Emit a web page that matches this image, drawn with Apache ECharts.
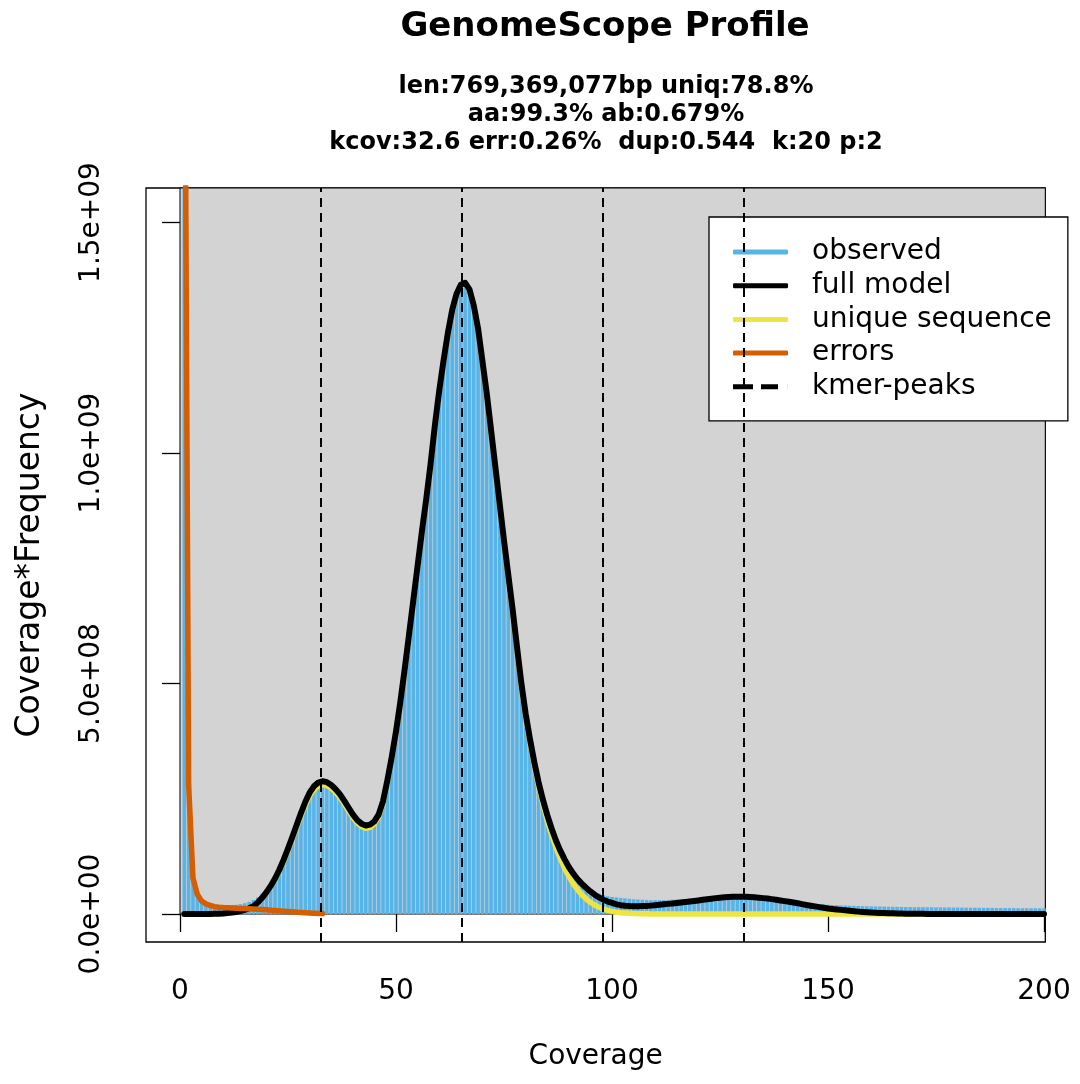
<!DOCTYPE html>
<html>
<head>
<meta charset="utf-8">
<script src="https://cdn.jsdelivr.net/npm/echarts@6/dist/echarts.min.js"></script>
<style>
html, body {margin: 0; padding: 0; background: #fff;}
#main {width: 1080px; height: 1084px;}
</style>
</head>
<body>
<div id="main"></div>
<script>
// k-mer coverage 1..200, values are coverage*frequency
var observed = [
    3.0e9, 3.0e8, 1.0e8, 5.0e7, 3.3e7, 2.6e7, 2.2e7, 2.0e7, 1.9e7, 1.85e7,
    1.85e7, 1.9e7, 2.0e7, 2.15e7, 2.35e7, 2.65e7, 3.05e7, 3.6e7, 4.4e7, 5.4e7,
    6.6e7, 8.0e7, 9.8e7, 1.19e8, 1.42e8, 1.66e8, 1.9e8, 2.15e8, 2.4e8, 2.6e8,
    2.74e8, 2.83e8, 2.86e8, 2.84e8, 2.78e8, 2.69e8, 2.58e8, 2.44e8, 2.29e8, 2.14e8,
    2.02e8, 1.94e8, 1.9e8, 1.92e8, 2.0e8, 2.15e8, 2.44e8, 2.88e8, 3.38e8, 3.94e8,
    4.58e8, 5.28e8, 6.03e8, 6.78e8, 7.53e8, 8.28e8, 8.98e8, 9.74e8, 1.058e9, 1.133e9,
    1.198e9, 1.258e9, 1.308e9, 1.343e9, 1.363e9, 1.367e9, 1.353e9, 1.318e9, 1.268e9, 1.198e9,
    1.128e9, 1.048e9, 9.68e8, 8.88e8, 8.08e8, 7.33e8, 6.58e8, 5.8e8, 5.04e8, 4.37e8,
    3.82e8, 3.32e8, 2.88e8, 2.5e8, 2.17e8, 1.88e8, 1.63e8, 1.41e8, 1.22e8, 1.05e8,
    9.1e7, 7.9e7, 6.9e7, 6.1e7, 5.4e7, 4.8e7, 4.4e7, 4.1e7, 3.85e7, 3.7e7,
    3.6e7, 3.5e7, 3.4e7, 3.3e7, 3.2e7, 3.15e7, 3.1e7, 3.05e7, 3.0e7, 3.0e7,
    3.0e7, 3.0e7, 3.05e7, 3.1e7, 3.15e7, 3.2e7, 3.25e7, 3.3e7, 3.35e7, 3.4e7,
    3.45e7, 3.5e7, 3.55e7, 3.58e7, 3.6e7, 3.62e7, 3.63e7, 3.63e7, 3.62e7, 3.6e7,
    3.55e7, 3.5e7, 3.43e7, 3.35e7, 3.27e7, 3.18e7, 3.08e7, 2.98e7, 2.88e7, 2.78e7,
    2.7e7, 2.6e7, 2.52e7, 2.44e7, 2.36e7, 2.28e7, 2.2e7, 2.13e7, 2.07e7, 2.01e7,
    1.96e7, 1.92e7, 1.88e7, 1.84e7, 1.8e7, 1.77e7, 1.74e7, 1.71e7, 1.68e7, 1.66e7,
    1.64e7, 1.62e7, 1.6e7, 1.58e7, 1.56e7, 1.55e7, 1.54e7, 1.52e7, 1.51e7, 1.5e7,
    1.49e7, 1.48e7, 1.47e7, 1.46e7, 1.45e7, 1.44e7, 1.43e7, 1.42e7, 1.41e7, 1.4e7,
    1.39e7, 1.38e7, 1.37e7, 1.36e7, 1.35e7, 1.34e7, 1.33e7, 1.32e7, 1.31e7, 1.3e7,
    1.29e7, 1.28e7, 1.27e7, 1.27e7, 1.26e7, 1.26e7, 1.25e7, 1.25e7, 1.24e7, 1.24e7
];
var fullModel = [
    0, 0, 0, 0, 0, 1e5, 2e5, 4e5, 7e5, 1.2e6,
    2e6, 3e6, 4.5e6, 6.5e6, 9e6, 1.25e7, 1.7e7, 2.5e7, 3.5e7, 4.7e7,
    6.1e7, 7.7e7, 9.6e7, 1.18e8, 1.42e8, 1.67e8, 1.93e8, 2.19e8, 2.43e8, 2.63e8,
    2.77e8, 2.85e8, 2.88e8, 2.86e8, 2.8e8, 2.71e8, 2.6e8, 2.46e8, 2.31e8, 2.16e8,
    2.04e8, 1.96e8, 1.92e8, 1.94e8, 2.01e8, 2.16e8, 2.45e8, 2.9e8, 3.4e8, 3.96e8,
    4.6e8, 5.3e8, 6.05e8, 6.8e8, 7.55e8, 8.3e8, 9.0e8, 9.76e8, 1.06e9, 1.135e9,
    1.2e9, 1.26e9, 1.31e9, 1.345e9, 1.365e9, 1.369e9, 1.355e9, 1.32e9, 1.27e9, 1.2e9,
    1.13e9, 1.05e9, 9.7e8, 8.9e8, 8.1e8, 7.35e8, 6.6e8, 5.8e8, 5.02e8, 4.35e8,
    3.8e8, 3.3e8, 2.86e8, 2.48e8, 2.15e8, 1.86e8, 1.6e8, 1.38e8, 1.19e8, 1.02e8,
    8.8e7, 7.6e7, 6.6e7, 5.7e7, 4.9e7, 4.2e7, 3.6e7, 3.1e7, 2.7e7, 2.4e7,
    2.1e7, 1.92e7, 1.8e7, 1.72e7, 1.7e7, 1.7e7, 1.72e7, 1.76e7, 1.82e7, 1.9e7,
    2.0e7, 2.1e7, 2.2e7, 2.3e7, 2.4e7, 2.5e7, 2.6e7, 2.7e7, 2.82e7, 2.95e7,
    3.08e7, 3.2e7, 3.33e7, 3.45e7, 3.55e7, 3.62e7, 3.68e7, 3.72e7, 3.74e7, 3.75e7,
    3.73e7, 3.7e7, 3.63e7, 3.55e7, 3.45e7, 3.35e7, 3.23e7, 3.1e7, 2.95e7, 2.8e7,
    2.65e7, 2.5e7, 2.33e7, 2.15e7, 1.97e7, 1.8e7, 1.65e7, 1.5e7, 1.35e7, 1.2e7,
    1.1e7, 1.0e7, 9e6, 8e6, 7e6, 6e6, 5.2e6, 4.5e6, 3.9e6, 3.3e6,
    2.8e6, 2.4e6, 2e6, 1.7e6, 1.4e6, 1.2e6, 1e6, 8e5, 6.5e5, 5e5,
    4e5, 3.2e5, 2.5e5, 2e5, 1.5e5, 1.2e5, 9e4, 7e4, 5e4, 4e4,
    3e4, 2e4, 1e4, 1e4, 0, 0, 0, 0, 0, 0,
    0, 0, 0, 0, 0, 0, 0, 0, 0, 0
];
var uniqueSeq = [
    0, 0, 0, 0, 0, 1e5, 2e5, 4e5, 7e5, 1.2e6,
    2e6, 3e6, 4.5e6, 6.5e6, 9e6, 1.25e7, 1.7e7, 2.45e7, 3.4e7, 4.6e7,
    5.95e7, 7.5e7, 9.35e7, 1.15e8, 1.38e8, 1.63e8, 1.88e8, 2.13e8, 2.36e8, 2.56e8,
    2.7e8, 2.78e8, 2.81e8, 2.79e8, 2.73e8, 2.64e8, 2.53e8, 2.39e8, 2.24e8, 2.1e8,
    1.98e8, 1.9e8, 1.86e8, 1.88e8, 1.96e8, 2.11e8, 2.41e8, 2.86e8, 3.37e8, 3.93e8,
    4.58e8, 5.28e8, 6.03e8, 6.78e8, 7.53e8, 8.28e8, 8.98e8, 9.74e8, 1.058e9, 1.133e9,
    1.198e9, 1.258e9, 1.308e9, 1.343e9, 1.363e9, 1.367e9, 1.353e9, 1.318e9, 1.268e9, 1.198e9,
    1.128e9, 1.048e9, 9.68e8, 8.88e8, 8.07e8, 7.31e8, 6.56e8, 5.76e8, 4.97e8, 4.3e8,
    3.74e8, 3.23e8, 2.78e8, 2.38e8, 2.03e8, 1.72e8, 1.45e8, 1.21e8, 1.0e8, 8.2e7,
    6.6e7, 5.3e7, 4.2e7, 3.3e7, 2.55e7, 1.95e7, 1.45e7, 1.05e7, 7.8e6, 5.6e6,
    4e6, 2.9e6, 2.1e6, 1.5e6, 1.1e6, 8e5, 5.5e5, 4e5, 2.8e5, 2e5,
    1.4e5, 1e5, 7e4, 5e4, 3e4, 2e4, 1e4, 0, 0, 0,
    0, 0, 0, 0, 0, 0, 0, 0, 0, 0,
    0, 0, 0, 0, 0, 0, 0, 0, 0, 0,
    0, 0, 0, 0, 0, 0, 0, 0, 0, 0,
    0, 0, 0, 0, 0, 0, 0, 0, 0, 0,
    0, 0, 0, 0, 0, 0, 0, 0, 0, 0,
    0, 0, 0, 0, 0, 0, 0, 0, 0, 0,
    0, 0, 0, 0, 0, 0, 0, 0, 0, 0,
    0, 0, 0, 0, 0, 0, 0, 0, 0, 0
];
var errors = [
    2.2e9, 2.8e8, 7.8e7, 4.3e7, 2.8e7, 2.2e7, 1.85e7, 1.6e7, 1.48e7, 1.4e7,
    1.35e7, 1.3e7, 1.26e7, 1.22e7, 1.18e7, 1.13e7, 1.08e7, 1.02e7, 9.6e6, 9e6,
    8.3e6, 7.6e6, 6.9e6, 6.2e6, 5.5e6, 4.8e6, 4.1e6, 3.5e6, 2.9e6, 2.3e6,
    1.8e6, 1.3e6, 9e5
];
var kmerPeaks = [32.6, 65.2, 97.8, 130.4];
var xTicks = [0, 50, 100, 150, 200];
var yTicks = [0, 5e8, 1e9, 1.5e9];
var yTickLabels = ['0.0e+00', '5.0e+08', '1.0e+09', '1.5e+09'];
var statLines = [
    'len:769,369,077bp uniq:78.8%',
    'aa:99.3% ab:0.679%',
    'kcov:32.6 err:0.26%  dup:0.544  k:20 p:2'
];

var X_MIN = -7.87, X_MAX = 200.3;
var Y_MIN = -6.07e7, Y_MAX = 1.5748e9;
var FONT = 'DejaVu Sans';

// coverage starts at 1
function toPairs(values) {
    return values.map(function (v, i) {
        return [i + 1, v];
    });
}

var myChart = echarts.init(document.getElementById('main'));
var option = {
    animation: false,
    backgroundColor: '#fff',
    graphic: [{
        type: 'text',
        x: 605, y: 27,
        style: {
            text: 'GenomeScope Profile',
            font: 'bold 34px ' + FONT,
            fill: '#000',
            align: 'center',
            verticalAlign: 'middle'
        }
    }, {
        type: 'text',
        x: 606, y: 73,
        style: {
            text: statLines.join('\n'),
            font: 'bold 24px ' + FONT,
            lineHeight: 28,
            fill: '#000',
            align: 'center',
            verticalAlign: 'top'
        }
    }],
    grid: {
        left: 146,
        right: 1080 - 1045.3,
        top: 188,
        bottom: 142,
        show: true,
        borderColor: '#000',
        borderWidth: 1.3
    },
    legend: {
        orient: 'vertical',
        left: 709,
        top: 217,
        padding: [20, 16, 19, 24],
        itemGap: 3.7,
        itemWidth: 55,
        itemHeight: 5,
        backgroundColor: '#fff',
        borderColor: '#000',
        borderWidth: 1.3,
        selectedMode: false,
        textStyle: {
            fontFamily: FONT,
            fontSize: 28,
            lineHeight: 30,
            color: '#000',
            padding: [0, 0, 0, 19]
        },
        data: [
            {name: 'observed', icon: 'roundRect'},
            {name: 'full model', icon: 'roundRect'},
            {name: 'unique sequence', icon: 'roundRect'},
            {name: 'errors', icon: 'roundRect'},
            {name: 'kmer-peaks', icon: 'path://M0,0H20V5H0Z M28,0H45V5H28Z M54.9,0H55V5H54.9Z'}
        ]
    },
    xAxis: {
        type: 'value',
        min: X_MIN,
        max: X_MAX,
        axisLine: {show: false},
        splitLine: {show: false},
        axisTick: {
            show: true,
            customValues: xTicks,
            length: 18,
            lineStyle: {color: '#000', width: 1.3}
        },
        axisLabel: {
            customValues: xTicks,
            margin: 36,
            fontFamily: FONT,
            fontSize: 28,
            color: '#000'
        },
        name: 'Coverage',
        nameLocation: 'middle',
        nameGap: 101,
        nameTextStyle: {fontFamily: FONT, fontSize: 28, color: '#000'}
    },
    yAxis: {
        type: 'value',
        min: Y_MIN,
        max: Y_MAX,
        axisLine: {show: false},
        splitLine: {show: false},
        axisTick: {
            show: true,
            customValues: yTicks,
            length: 18,
            lineStyle: {color: '#000', width: 1.3}
        },
        axisLabel: {
            customValues: yTicks,
            rotate: 90,
            margin: 40,
            fontFamily: FONT,
            fontSize: 28,
            color: '#000',
            formatter: function (value) {
                var i = yTicks.indexOf(value);
                return i >= 0 ? yTickLabels[i] : '';
            }
        },
        name: 'Coverage*Frequency',
        nameLocation: 'middle',
        nameRotate: 90,
        nameGap: 99,
        nameTextStyle: {fontFamily: FONT, fontSize: 33, color: '#000'}
    },
    series: [{
        // grey panel from (0,0) to the corner
        name: 'panel',
        type: 'line',
        data: [],
        silent: true,
        markArea: {
            silent: true,
            itemStyle: {color: '#d3d3d3', borderColor: '#000', borderWidth: 1},
            data: [[{coord: [0, 0]}, {coord: [X_MAX, Y_MAX]}]]
        }
    }, {
        name: 'observed',
        type: 'bar',
        data: toPairs(observed),
        barWidth: 3.6,
        clip: true,
        itemStyle: {color: '#56B4E9'}
    }, {
        name: 'unique sequence',
        type: 'line',
        data: toPairs(uniqueSeq),
        symbol: 'none',
        clip: true,
        itemStyle: {color: '#F0E442'},
        lineStyle: {color: '#F0E442', width: 5.5, join: 'round', cap: 'round'}
    }, {
        name: 'full model',
        type: 'line',
        data: toPairs(fullModel),
        symbol: 'none',
        clip: true,
        itemStyle: {color: '#000'},
        lineStyle: {color: '#000', width: 6, join: 'round', cap: 'round'}
    }, {
        name: 'errors',
        type: 'line',
        data: toPairs(errors),
        symbol: 'none',
        clip: true,
        itemStyle: {color: '#D55E00'},
        lineStyle: {color: '#D55E00', width: 5.5, join: 'round', cap: 'round'}
    }, {
        name: 'kmer-peaks',
        type: 'line',
        data: [],
        itemStyle: {color: '#000'},
        markLine: {
            silent: true,
            symbol: ['none', 'none'],
            label: {show: false},
            lineStyle: {color: '#000', type: [9, 6], width: 2},
            data: kmerPeaks.map(function (v) {
                return {xAxis: v};
            })
        }
    }]
};
myChart.setOption(option);
</script>
</body>
</html>
